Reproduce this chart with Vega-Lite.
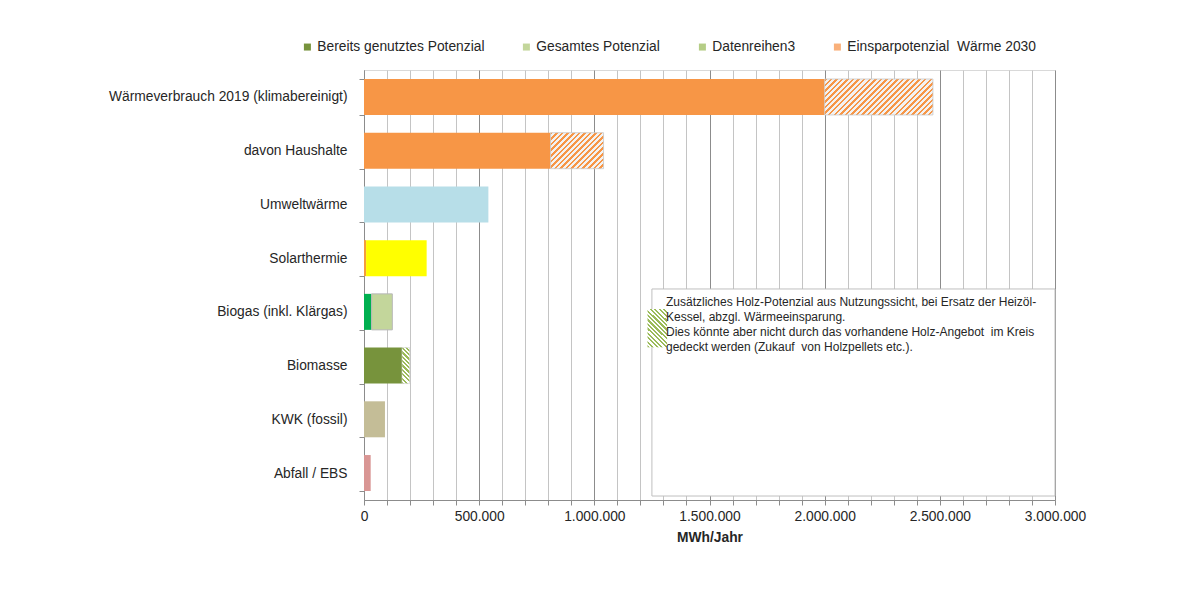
{
  "$schema": "https://vega.github.io/schema/vega-lite/v6.json",
  "width": 691,
  "height": 430,
  "autosize": {"type": "none"},
  "padding": {"left": 364, "top": 70, "right": 123, "bottom": 90},
  "background": "#ffffff",
  "config": {
    "font": "Liberation Sans",
    "view": {"stroke": "#d9d9d9", "strokeWidth": 1},
    "axis": {"labelFont": "Liberation Sans", "titleFont": "Liberation Sans", "labelColor": "#262626", "titleColor": "#262626"},
    "axisX": {"tickCount": 30},
    "legend": {"labelFont": "Liberation Sans"}
  },
  "datasets": {
    "segmente": [
      {"kategorie": "Wärmeverbrauch 2019 (klimabereinigt)", "anteil": "Wärmeverbrauch", "stufe": 1, "wert": 2000000},
      {"kategorie": "Wärmeverbrauch 2019 (klimabereinigt)", "anteil": "Einsparung Wärmeverbrauch", "stufe": 2, "wert": 470000},
      {"kategorie": "davon Haushalte\u00a0", "anteil": "Haushalte", "stufe": 1, "wert": 810000},
      {"kategorie": "davon Haushalte\u00a0", "anteil": "Einsparung Haushalte", "stufe": 2, "wert": 230000},
      {"kategorie": "Umweltwärme", "anteil": "Umweltwärme", "stufe": 1, "wert": 540000},
      {"kategorie": "Solarthermie", "anteil": "Solarthermie genutzt", "stufe": 1, "wert": 9000},
      {"kategorie": "Solarthermie", "anteil": "Solarthermie", "stufe": 2, "wert": 263000},
      {"kategorie": "Biogas (inkl. Klärgas)", "anteil": "Biogas genutzt", "stufe": 1, "wert": 33000},
      {"kategorie": "Biogas (inkl. Klärgas)", "anteil": "Biogas gesamt", "stufe": 2, "wert": 90000},
      {"kategorie": "Biomasse", "anteil": "Biomasse genutzt", "stufe": 1, "wert": 165000},
      {"kategorie": "Biomasse", "anteil": "Biomasse zusätzlich", "stufe": 2, "wert": 33000},
      {"kategorie": "KWK (fossil)", "anteil": "KWK", "stufe": 1, "wert": 91000},
      {"kategorie": "Abfall / EBS", "anteil": "Abfall", "stufe": 1, "wert": 29000}
    ],
    "reihen": [
      {"reihe": "Bereits genutztes Potenzial"},
      {"reihe": "Gesamtes Potenzial"},
      {"reihe": "Datenreihen3"},
      {"reihe": "Einsparpotenzial\u00a0 Wärme 2030"}
    ],
    "hinweis": [
      {"notiz": [
        "Zusätzliches Holz-Potenzial aus Nutzungssicht, bei Ersatz der Heizöl-",
        "Kessel, abzgl. Wärmeeinsparung.",
        "Dies könnte aber nicht durch das vorhandene Holz-Angebot\u00a0 im Kreis",
        "gedeckt werden (Zukauf\u00a0 von Holzpellets etc.)."
      ]}
    ]
  },
  "layer": [
    {
      "data": {"name": "segmente"},
      "transform": [
        {"stack": "wert", "groupby": ["kategorie"], "sort": [{"field": "stufe", "order": "ascending"}], "as": ["von", "bis"]}
      ],
      "encoding": {
        "y": {
          "field": "kategorie", "type": "nominal",
          "scale": {
            "domain": ["Wärmeverbrauch 2019 (klimabereinigt)", "davon Haushalte\u00a0", "Umweltwärme", "Solarthermie", "Biogas (inkl. Klärgas)", "Biomasse", "KWK (fossil)", "Abfall / EBS"],
            "paddingInner": 0.33, "paddingOuter": 0.167
          },
          "axis": {
            "title": null, "labelFontSize": 13.8, "labelPadding": 12, "labelLimit": 400,
            "tickSize": 5, "tickColor": "#8c8c8c", "domainColor": "#8c8c8c", "tickBand": "extent", "grid": false
          }
        },
        "x": {
          "field": "von", "type": "quantitative",
          "scale": {"domain": [0, 3000000], "nice": false, "zero": true},
          "axis": {
            "title": "MWh/Jahr", "titleFontSize": 13.8, "titleFontWeight": "bold", "titlePadding": 8,
            "tickCount": 30,
            "labelExpr": "datum.value % 500000 === 0 ? replace(format(datum.value, ','), regexp(',', 'g'), '.') : ''",
            "labelFlush": false, "labelOverlap": false, "labelFontSize": 13.8, "labelPadding": 4,
            "tickSize": 5, "tickColor": "#8c8c8c", "domainColor": "#8c8c8c",
            "grid": true,
            "gridColor": {"condition": {"test": "datum.value % 500000 === 0", "value": "#8c8c8c"}, "value": "#c4c4c4"}
          }
        },
        "x2": {"field": "bis"}
      },
      "layer": [
        {
          "transform": [{"filter": "indexof(['Einsparung Wärmeverbrauch', 'Einsparung Haushalte', 'Biomasse zusätzlich'], datum.anteil) < 0"}],
          "mark": {"type": "bar"},
          "encoding": {
            "color": {
              "field": "anteil", "type": "nominal", "legend": null,
              "scale": {
                "domain": ["Wärmeverbrauch", "Haushalte", "Umweltwärme", "Solarthermie genutzt", "Solarthermie", "Biogas genutzt", "Biogas gesamt", "Biomasse genutzt", "KWK", "Abfall"],
                "range": ["#F79646", "#F79646", "#B7DEE8", "#F59D3D", "#FFFF00", "#00B050", "#C3D69B", "#77933C", "#C4BD97", "#D99694"]
              }
            },
            "stroke": {"condition": {"test": "datum.anteil === 'Biogas gesamt'", "value": "#b8b8b8"}, "value": "transparent"}
          }
        },
        {
          "transform": [{"filter": "datum.anteil === 'Einsparung Wärmeverbrauch'"}],
          "mark": {
            "type": "bar", "stroke": "#c8c8c8", "strokeWidth": 0.8,
            "fill": {
              "gradient": "linear", "x1": 0, "y1": 0, "x2": 1.1998, "y2": 0.3988,
              "stops": [
                {"offset": 0, "color": "#F79646"}, {"offset": 0.0173, "color": "#F79646"}, {"offset": 0.0173, "color": "#F2F2F2"}, {"offset": 0.0385, "color": "#F2F2F2"},
                {"offset": 0.0385, "color": "#F79646"}, {"offset": 0.0558, "color": "#F79646"}, {"offset": 0.0558, "color": "#F2F2F2"}, {"offset": 0.0769, "color": "#F2F2F2"},
                {"offset": 0.0769, "color": "#F79646"}, {"offset": 0.0942, "color": "#F79646"}, {"offset": 0.0942, "color": "#F2F2F2"}, {"offset": 0.1154, "color": "#F2F2F2"},
                {"offset": 0.1154, "color": "#F79646"}, {"offset": 0.1327, "color": "#F79646"}, {"offset": 0.1327, "color": "#F2F2F2"}, {"offset": 0.1538, "color": "#F2F2F2"},
                {"offset": 0.1538, "color": "#F79646"}, {"offset": 0.1711, "color": "#F79646"}, {"offset": 0.1711, "color": "#F2F2F2"}, {"offset": 0.1923, "color": "#F2F2F2"},
                {"offset": 0.1923, "color": "#F79646"}, {"offset": 0.2096, "color": "#F79646"}, {"offset": 0.2096, "color": "#F2F2F2"}, {"offset": 0.2308, "color": "#F2F2F2"},
                {"offset": 0.2308, "color": "#F79646"}, {"offset": 0.2481, "color": "#F79646"}, {"offset": 0.2481, "color": "#F2F2F2"}, {"offset": 0.2692, "color": "#F2F2F2"},
                {"offset": 0.2692, "color": "#F79646"}, {"offset": 0.2865, "color": "#F79646"}, {"offset": 0.2865, "color": "#F2F2F2"}, {"offset": 0.3077, "color": "#F2F2F2"},
                {"offset": 0.3077, "color": "#F79646"}, {"offset": 0.325, "color": "#F79646"}, {"offset": 0.325, "color": "#F2F2F2"}, {"offset": 0.3462, "color": "#F2F2F2"},
                {"offset": 0.3462, "color": "#F79646"}, {"offset": 0.3635, "color": "#F79646"}, {"offset": 0.3635, "color": "#F2F2F2"}, {"offset": 0.3846, "color": "#F2F2F2"},
                {"offset": 0.3846, "color": "#F79646"}, {"offset": 0.4019, "color": "#F79646"}, {"offset": 0.4019, "color": "#F2F2F2"}, {"offset": 0.4231, "color": "#F2F2F2"},
                {"offset": 0.4231, "color": "#F79646"}, {"offset": 0.4404, "color": "#F79646"}, {"offset": 0.4404, "color": "#F2F2F2"}, {"offset": 0.4615, "color": "#F2F2F2"},
                {"offset": 0.4615, "color": "#F79646"}, {"offset": 0.4788, "color": "#F79646"}, {"offset": 0.4788, "color": "#F2F2F2"}, {"offset": 0.5, "color": "#F2F2F2"},
                {"offset": 0.5, "color": "#F79646"}, {"offset": 0.5173, "color": "#F79646"}, {"offset": 0.5173, "color": "#F2F2F2"}, {"offset": 0.5385, "color": "#F2F2F2"},
                {"offset": 0.5385, "color": "#F79646"}, {"offset": 0.5558, "color": "#F79646"}, {"offset": 0.5558, "color": "#F2F2F2"}, {"offset": 0.5769, "color": "#F2F2F2"},
                {"offset": 0.5769, "color": "#F79646"}, {"offset": 0.5942, "color": "#F79646"}, {"offset": 0.5942, "color": "#F2F2F2"}, {"offset": 0.6154, "color": "#F2F2F2"},
                {"offset": 0.6154, "color": "#F79646"}, {"offset": 0.6327, "color": "#F79646"}, {"offset": 0.6327, "color": "#F2F2F2"}, {"offset": 0.6538, "color": "#F2F2F2"},
                {"offset": 0.6538, "color": "#F79646"}, {"offset": 0.6711, "color": "#F79646"}, {"offset": 0.6711, "color": "#F2F2F2"}, {"offset": 0.6923, "color": "#F2F2F2"},
                {"offset": 0.6923, "color": "#F79646"}, {"offset": 0.7096, "color": "#F79646"}, {"offset": 0.7096, "color": "#F2F2F2"}, {"offset": 0.7308, "color": "#F2F2F2"},
                {"offset": 0.7308, "color": "#F79646"}, {"offset": 0.7481, "color": "#F79646"}, {"offset": 0.7481, "color": "#F2F2F2"}, {"offset": 0.7692, "color": "#F2F2F2"},
                {"offset": 0.7692, "color": "#F79646"}, {"offset": 0.7865, "color": "#F79646"}, {"offset": 0.7865, "color": "#F2F2F2"}, {"offset": 0.8077, "color": "#F2F2F2"},
                {"offset": 0.8077, "color": "#F79646"}, {"offset": 0.825, "color": "#F79646"}, {"offset": 0.825, "color": "#F2F2F2"}, {"offset": 0.8462, "color": "#F2F2F2"},
                {"offset": 0.8462, "color": "#F79646"}, {"offset": 0.8635, "color": "#F79646"}, {"offset": 0.8635, "color": "#F2F2F2"}, {"offset": 0.8846, "color": "#F2F2F2"},
                {"offset": 0.8846, "color": "#F79646"}, {"offset": 0.9019, "color": "#F79646"}, {"offset": 0.9019, "color": "#F2F2F2"}, {"offset": 0.9231, "color": "#F2F2F2"},
                {"offset": 0.9231, "color": "#F79646"}, {"offset": 0.9404, "color": "#F79646"}, {"offset": 0.9404, "color": "#F2F2F2"}, {"offset": 0.9615, "color": "#F2F2F2"},
                {"offset": 0.9615, "color": "#F79646"}, {"offset": 0.9788, "color": "#F79646"}, {"offset": 0.9788, "color": "#F2F2F2"}, {"offset": 1, "color": "#F2F2F2"}
              ]
            }
          }
        },
        {
          "transform": [{"filter": "datum.anteil === 'Einsparung Haushalte'"}],
          "mark": {
            "type": "bar", "stroke": "#c8c8c8", "strokeWidth": 0.8,
            "fill": {
              "gradient": "linear", "x1": 0, "y1": 0, "x2": 1.1491, "y2": 0.7805,
              "stops": [
                {"offset": 0, "color": "#F79646"}, {"offset": 0.0281, "color": "#F79646"}, {"offset": 0.0281, "color": "#F2F2F2"}, {"offset": 0.0625, "color": "#F2F2F2"},
                {"offset": 0.0625, "color": "#F79646"}, {"offset": 0.0906, "color": "#F79646"}, {"offset": 0.0906, "color": "#F2F2F2"}, {"offset": 0.125, "color": "#F2F2F2"},
                {"offset": 0.125, "color": "#F79646"}, {"offset": 0.1531, "color": "#F79646"}, {"offset": 0.1531, "color": "#F2F2F2"}, {"offset": 0.1875, "color": "#F2F2F2"},
                {"offset": 0.1875, "color": "#F79646"}, {"offset": 0.2156, "color": "#F79646"}, {"offset": 0.2156, "color": "#F2F2F2"}, {"offset": 0.25, "color": "#F2F2F2"},
                {"offset": 0.25, "color": "#F79646"}, {"offset": 0.2781, "color": "#F79646"}, {"offset": 0.2781, "color": "#F2F2F2"}, {"offset": 0.3125, "color": "#F2F2F2"},
                {"offset": 0.3125, "color": "#F79646"}, {"offset": 0.3406, "color": "#F79646"}, {"offset": 0.3406, "color": "#F2F2F2"}, {"offset": 0.375, "color": "#F2F2F2"},
                {"offset": 0.375, "color": "#F79646"}, {"offset": 0.4031, "color": "#F79646"}, {"offset": 0.4031, "color": "#F2F2F2"}, {"offset": 0.4375, "color": "#F2F2F2"},
                {"offset": 0.4375, "color": "#F79646"}, {"offset": 0.4656, "color": "#F79646"}, {"offset": 0.4656, "color": "#F2F2F2"}, {"offset": 0.5, "color": "#F2F2F2"},
                {"offset": 0.5, "color": "#F79646"}, {"offset": 0.5281, "color": "#F79646"}, {"offset": 0.5281, "color": "#F2F2F2"}, {"offset": 0.5625, "color": "#F2F2F2"},
                {"offset": 0.5625, "color": "#F79646"}, {"offset": 0.5906, "color": "#F79646"}, {"offset": 0.5906, "color": "#F2F2F2"}, {"offset": 0.625, "color": "#F2F2F2"},
                {"offset": 0.625, "color": "#F79646"}, {"offset": 0.6531, "color": "#F79646"}, {"offset": 0.6531, "color": "#F2F2F2"}, {"offset": 0.6875, "color": "#F2F2F2"},
                {"offset": 0.6875, "color": "#F79646"}, {"offset": 0.7156, "color": "#F79646"}, {"offset": 0.7156, "color": "#F2F2F2"}, {"offset": 0.75, "color": "#F2F2F2"},
                {"offset": 0.75, "color": "#F79646"}, {"offset": 0.7781, "color": "#F79646"}, {"offset": 0.7781, "color": "#F2F2F2"}, {"offset": 0.8125, "color": "#F2F2F2"},
                {"offset": 0.8125, "color": "#F79646"}, {"offset": 0.8406, "color": "#F79646"}, {"offset": 0.8406, "color": "#F2F2F2"}, {"offset": 0.875, "color": "#F2F2F2"},
                {"offset": 0.875, "color": "#F79646"}, {"offset": 0.9031, "color": "#F79646"}, {"offset": 0.9031, "color": "#F2F2F2"}, {"offset": 0.9375, "color": "#F2F2F2"},
                {"offset": 0.9375, "color": "#F79646"}, {"offset": 0.9656, "color": "#F79646"}, {"offset": 0.9656, "color": "#F2F2F2"}, {"offset": 1, "color": "#F2F2F2"}
              ]
            }
          }
        },
        {
          "transform": [{"filter": "datum.anteil === 'Biomasse zusätzlich'"}],
          "mark": {
            "type": "bar", "stroke": "#d0d0d0", "strokeWidth": 0.6,
            "fill": {
              "gradient": "linear", "x1": 0, "y1": 1, "x2": 0.2448, "y2": -0.1594,
              "stops": [
                {"offset": 0, "color": "#9BBB59"}, {"offset": 0.05, "color": "#9BBB59"}, {"offset": 0.05, "color": "#FFFFFF"}, {"offset": 0.1, "color": "#FFFFFF"},
                {"offset": 0.1, "color": "#9BBB59"}, {"offset": 0.15, "color": "#9BBB59"}, {"offset": 0.15, "color": "#FFFFFF"}, {"offset": 0.2, "color": "#FFFFFF"},
                {"offset": 0.2, "color": "#9BBB59"}, {"offset": 0.25, "color": "#9BBB59"}, {"offset": 0.25, "color": "#FFFFFF"}, {"offset": 0.3, "color": "#FFFFFF"},
                {"offset": 0.3, "color": "#9BBB59"}, {"offset": 0.35, "color": "#9BBB59"}, {"offset": 0.35, "color": "#FFFFFF"}, {"offset": 0.4, "color": "#FFFFFF"},
                {"offset": 0.4, "color": "#9BBB59"}, {"offset": 0.45, "color": "#9BBB59"}, {"offset": 0.45, "color": "#FFFFFF"}, {"offset": 0.5, "color": "#FFFFFF"},
                {"offset": 0.5, "color": "#9BBB59"}, {"offset": 0.55, "color": "#9BBB59"}, {"offset": 0.55, "color": "#FFFFFF"}, {"offset": 0.6, "color": "#FFFFFF"},
                {"offset": 0.6, "color": "#9BBB59"}, {"offset": 0.65, "color": "#9BBB59"}, {"offset": 0.65, "color": "#FFFFFF"}, {"offset": 0.7, "color": "#FFFFFF"},
                {"offset": 0.7, "color": "#9BBB59"}, {"offset": 0.75, "color": "#9BBB59"}, {"offset": 0.75, "color": "#FFFFFF"}, {"offset": 0.8, "color": "#FFFFFF"},
                {"offset": 0.8, "color": "#9BBB59"}, {"offset": 0.85, "color": "#9BBB59"}, {"offset": 0.85, "color": "#FFFFFF"}, {"offset": 0.9, "color": "#FFFFFF"},
                {"offset": 0.9, "color": "#9BBB59"}, {"offset": 0.95, "color": "#9BBB59"}, {"offset": 0.95, "color": "#FFFFFF"}, {"offset": 1, "color": "#FFFFFF"}
              ]
            }
          }
        }
      ]
    },
    {
      "data": {"name": "hinweis"},
      "layer": [
        {
          "mark": {"type": "rect", "fill": "#ffffff", "stroke": "#bfbfbf", "strokeWidth": 1},
          "encoding": {
            "x": {"datum": 1250000, "type": "quantitative", "scale": {"domain": [0, 3000000], "nice": false, "zero": true}},
            "x2": {"datum": 3000000},
            "y": {"datum": 4.074, "type": "quantitative", "scale": {"domain": [0, 8], "reverse": true, "nice": false, "zero": false}, "axis": null},
            "y2": {"datum": 7.926}
          }
        },
        {
          "mark": {
            "type": "rect",
            "fill": {
              "gradient": "linear", "x1": 0, "y1": 1, "x2": 0.6074, "y2": -0.1992,
              "stops": [
                {"offset": 0, "color": "#9BBB59"}, {"offset": 0.0385, "color": "#9BBB59"}, {"offset": 0.0385, "color": "#FFFFFF"}, {"offset": 0.0769, "color": "#FFFFFF"},
                {"offset": 0.0769, "color": "#9BBB59"}, {"offset": 0.1154, "color": "#9BBB59"}, {"offset": 0.1154, "color": "#FFFFFF"}, {"offset": 0.1538, "color": "#FFFFFF"},
                {"offset": 0.1538, "color": "#9BBB59"}, {"offset": 0.1923, "color": "#9BBB59"}, {"offset": 0.1923, "color": "#FFFFFF"}, {"offset": 0.2308, "color": "#FFFFFF"},
                {"offset": 0.2308, "color": "#9BBB59"}, {"offset": 0.2692, "color": "#9BBB59"}, {"offset": 0.2692, "color": "#FFFFFF"}, {"offset": 0.3077, "color": "#FFFFFF"},
                {"offset": 0.3077, "color": "#9BBB59"}, {"offset": 0.3462, "color": "#9BBB59"}, {"offset": 0.3462, "color": "#FFFFFF"}, {"offset": 0.3846, "color": "#FFFFFF"},
                {"offset": 0.3846, "color": "#9BBB59"}, {"offset": 0.4231, "color": "#9BBB59"}, {"offset": 0.4231, "color": "#FFFFFF"}, {"offset": 0.4615, "color": "#FFFFFF"},
                {"offset": 0.4615, "color": "#9BBB59"}, {"offset": 0.5, "color": "#9BBB59"}, {"offset": 0.5, "color": "#FFFFFF"}, {"offset": 0.5385, "color": "#FFFFFF"},
                {"offset": 0.5385, "color": "#9BBB59"}, {"offset": 0.5769, "color": "#9BBB59"}, {"offset": 0.5769, "color": "#FFFFFF"}, {"offset": 0.6154, "color": "#FFFFFF"},
                {"offset": 0.6154, "color": "#9BBB59"}, {"offset": 0.6538, "color": "#9BBB59"}, {"offset": 0.6538, "color": "#FFFFFF"}, {"offset": 0.6923, "color": "#FFFFFF"},
                {"offset": 0.6923, "color": "#9BBB59"}, {"offset": 0.7308, "color": "#9BBB59"}, {"offset": 0.7308, "color": "#FFFFFF"}, {"offset": 0.7692, "color": "#FFFFFF"},
                {"offset": 0.7692, "color": "#9BBB59"}, {"offset": 0.8077, "color": "#9BBB59"}, {"offset": 0.8077, "color": "#FFFFFF"}, {"offset": 0.8462, "color": "#FFFFFF"},
                {"offset": 0.8462, "color": "#9BBB59"}, {"offset": 0.8846, "color": "#9BBB59"}, {"offset": 0.8846, "color": "#FFFFFF"}, {"offset": 0.9231, "color": "#FFFFFF"},
                {"offset": 0.9231, "color": "#9BBB59"}, {"offset": 0.9615, "color": "#9BBB59"}, {"offset": 0.9615, "color": "#FFFFFF"}, {"offset": 1, "color": "#FFFFFF"}
              ]
            }
          },
          "encoding": {
            "x": {"datum": 1231000, "type": "quantitative"},
            "x2": {"datum": 1316000},
            "y": {"datum": 4.447, "type": "quantitative"},
            "y2": {"datum": 5.159}
          }
        },
        {
          "mark": {"type": "text", "align": "left", "baseline": "top", "font": "Liberation Sans", "fontSize": 12, "lineHeight": 15, "color": "#262626"},
          "encoding": {
            "x": {"datum": 1311000, "type": "quantitative"},
            "y": {"datum": 4.223, "type": "quantitative"},
            "text": {"field": "notiz", "type": "nominal"}
          }
        }
      ]
    },
    {
      "data": {"name": "reihen"},
      "transform": [{"filter": "false"}],
      "mark": {"type": "square", "opacity": 1},
      "encoding": {
        "fill": {
          "field": "reihe", "type": "nominal",
          "scale": {
            "domain": ["Bereits genutztes Potenzial", "Gesamtes Potenzial", "Datenreihen3", "Einsparpotenzial\u00a0 Wärme 2030"],
            "range": ["#77933C", "#C3D69B", "#B5CD86", "#F9B07A"]
          },
          "legend": {
            "orient": "none", "legendX": -63.5, "legendY": -30, "direction": "horizontal",
            "title": null, "padding": 0, "symbolType": "square", "symbolSize": 49,
            "symbolStrokeWidth": 0, "symbolOpacity": 1,
            "labelFontSize": 13.8, "labelColor": "#262626", "labelOffset": 3, "labelLimit": 400,
            "columnPadding": 35
          }
        }
      }
    }
  ],
  "resolve": {"scale": {"y": "independent"}}
}
